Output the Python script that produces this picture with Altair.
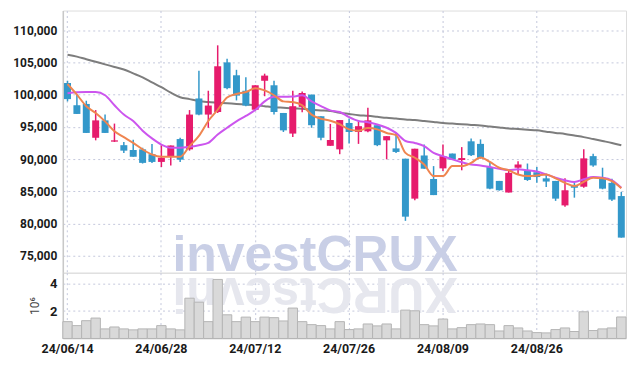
import altair as alt
import pandas as pd

dates = ["24/06/14","24/06/17","24/06/18","24/06/19","24/06/20","24/06/21","24/06/24","24/06/25","24/06/26","24/06/27","24/06/28",
"24/07/01","24/07/02","24/07/03","24/07/04","24/07/05","24/07/08","24/07/09","24/07/10","24/07/11","24/07/12",
"24/07/15","24/07/16","24/07/17","24/07/18","24/07/19","24/07/22","24/07/23","24/07/24","24/07/25","24/07/26",
"24/07/29","24/07/30","24/07/31","24/08/01","24/08/02","24/08/05","24/08/06","24/08/07","24/08/08","24/08/09",
"24/08/12","24/08/13","24/08/14","24/08/16","24/08/19","24/08/20","24/08/21","24/08/22","24/08/23","24/08/26",
"24/08/27","24/08/28","24/08/29","24/08/30","24/09/02","24/09/03","24/09/04","24/09/05","24/09/06"]

label_dates = ["24/06/14", "24/06/28", "24/07/12", "24/07/26", "24/08/09", "24/08/26"]

opens = [101800, 98350, 98550, 93300, 96000, 92700, 92150, 91400, 91500, 90750,
         89550, 90350, 93100, 91500, 99400, 96900, 97300, 105000, 103000, 100600,
         97650, 102150, 101450, 97150, 93950, 98100, 100000, 96650, 92050, 91500,
         95600, 94200, 94300, 95250, 92900, 91650, 90050, 83850, 90550, 86900,
         88550, 90850, 89850, 92750, 92350, 88750, 86600, 84800, 88650, 88150,
         87950, 87000, 86600, 82800, 85800, 85700, 90450, 87100, 86300, 84250]
closes = [99300, 97000, 94050, 96000, 94050, 92900, 91300, 90350, 89400, 89550,
          90200, 92100, 89900, 96900, 96900, 98300, 104400, 101000, 99850, 98300,
          101450, 102950, 97300, 94450, 98200, 100250, 95250, 93300, 92950, 96050,
          94200, 95100, 96000, 92150, 93550, 91100, 81050, 91600, 88500, 84400,
          90450, 89900, 90150, 90600, 90200, 85400, 85150, 87850, 89150, 86750,
          87200, 86500, 83850, 85150, 85550, 90100, 89000, 85400, 83700, 77800]
highs = [102150, 100000, 99050, 97600, 96900, 95500, 92650, 93000, 91750, 92350,
         92150, 92100, 93300, 97600, 103700, 100600, 107650, 105550, 103850, 102700,
         101450, 103250, 102150, 97150, 100600, 100500, 100000, 96650, 95450, 96050,
         96300, 95850, 97950, 95250, 93550, 94050, 90050, 91600, 92250, 88900,
         92250, 90850, 91850, 93200, 93050, 89550, 86600, 88150, 89650, 89300,
         88750, 87700, 86600, 87000, 86300, 91500, 90800, 88650, 86950, 84900]
lows = [98950, 97000, 94050, 92900, 94050, 92650, 90950, 90350, 89300, 89400,
        88750, 89000, 89550, 91300, 96800, 94850, 97150, 100850, 99100, 98200,
        97500, 99750, 96900, 94200, 93400, 97250, 94850, 92900, 92050, 90750,
        92400, 92350, 94150, 92000, 89950, 90950, 80400, 83600, 88500, 84400,
        88150, 89850, 88250, 90450, 90050, 85300, 85100, 84800, 87500, 86600,
        86300, 85650, 83500, 82600, 84000, 85550, 88800, 85300, 83500, 77800]

volumes = [1.23, 0.94, 1.30, 1.49, 0.70, 0.84, 0.70, 0.63, 0.70, 0.70,
           0.94, 0.70, 0.63, 2.94, 2.65, 1.23, 4.31, 1.73, 1.23, 1.56,
           1.23, 1.56, 1.52, 1.28, 2.22, 1.23, 1.01, 0.94, 0.70, 1.23,
           0.65, 0.70, 1.06, 0.92, 1.06, 0.70, 2.07, 2.02, 1.01, 0.92,
           1.42, 0.70, 0.79, 1.01, 1.06, 1.01, 0.55, 0.94, 0.77, 0.55,
           0.43, 0.41, 0.65, 0.77, 0.51, 1.95, 0.58, 0.70, 0.77, 1.57]

ma_short = [101650, 100000, 98200, 97150, 95850, 94300, 93400, 92500, 91500, 90700,
            90350, 90350, 90350, 92000, 93600, 95900, 97650, 99550, 100100, 100400,
            101000, 100650, 99900, 98950, 98850, 98350, 96900, 96250, 95950, 95400,
            94600, 94400, 94800, 94600, 94050, 93700, 90950, 90200, 89150, 87350,
            87350, 88900, 88900, 89400, 90250, 89550, 88650, 88250, 87600, 87350,
            87450, 87600, 87000, 86300, 85800, 86450, 87100, 87000, 86550, 85450]
ma_mid = [100200, 100350, 100400, 100400, 99900, 98350, 96900, 95900, 94400, 93200,
          92250, 91750, 91750, 91900, 92150, 92500, 93800, 94850, 95850, 96700,
          97600, 98950, 99650, 99650, 99700, 99900, 98950, 98200, 97550, 97300,
          96500, 95900, 95700, 95350, 94850, 94050, 92800, 92500, 92000, 90950,
          90450, 89950, 89500, 89150, 89000, 88750, 88500, 88300, 88400, 88250,
          88050, 87600, 87100, 86700, 86450, 86850, 87200, 87100, 86700, 85550]
ma_long = [106190, 105900, 105500, 105100, 104700, 104300, 103900, 103300, 102680, 101900,
           101150, 100300, 99600, 99300, 99000, 98850, 98750, 98650, 98550, 98450,
           98350, 98200, 98050, 97950, 97850, 97800, 97650, 97550, 97450, 97200,
           97000, 96800, 96700, 96550, 96400, 96280, 96150, 96050, 95900, 95750,
           95600, 95500, 95400, 95300, 95200, 95050, 94900, 94750, 94650, 94550,
           94450, 94250, 94050, 93900, 93650, 93400, 93100, 92800, 92500, 92150]

price_ticks = [75000, 80000, 85000, 90000, 95000, 100000, 105000, 110000]
vol_ticks = [2, 4]

df = pd.DataFrame({
    "date": dates, "open": opens, "high": highs, "low": lows, "close": closes,
    "vol": volumes, "ma5": ma_short, "ma20": ma_mid, "ma60": ma_long,
})

UP = "#e61b6c"
DOWN = "#3398ca"
GRID = "#c4c8dc"
FONT = "Roboto"
LBL = "#1a1a1a"

xscale = alt.Scale(domain=dates, paddingInner=0, paddingOuter=0)
grid_axis = alt.Axis(values=label_dates, labels=False, ticks=False, domain=False, title=None,
                     grid=True, gridDash=[2, 3], gridColor=GRID, gridWidth=1, bandPosition=0.5)
bottom_axis = alt.Axis(values=label_dates, labels=True, ticks=False, domain=False, title=None,
                       grid=True, gridDash=[2, 3], gridColor=GRID, gridWidth=1, bandPosition=0.5,
                       labelFont=FONT, labelFontSize=12.5, labelFontWeight="bold", labelColor=LBL,
                       labelPadding=4, labelAngle=0)

pscale = alt.Scale(domain=[72350, 113050], nice=False, zero=False)
price_axis = alt.Axis(values=price_ticks, format=",d", title=None, ticks=False, domain=True,
                      domainColor="#c8c8c8", domainWidth=1.5, grid=True, gridDash=[2, 3],
                      gridColor=GRID, labelFont=FONT, labelFontSize=12, labelFontWeight="bold",
                      labelColor=LBL, labelPadding=6, minExtent=54, maxExtent=54)

base = alt.Chart(df)

wm = alt.Chart(pd.DataFrame({"t": ["investCRUX"]})).mark_text(
    font="Liberation Sans", fontWeight="bold", fontSize=50, color="#c9cfe6",
    align="center", baseline="alphabetic"
).encode(text="t:N", x=alt.value(253), y=alt.value(261))

grid_layer = base.mark_rule(opacity=0).encode(
    x=alt.X("date:O", scale=xscale, axis=grid_axis, bandPosition=0.5),
    y=alt.Y("close:Q", scale=pscale, axis=price_axis),
)

color_cond = alt.condition("datum.close >= datum.open", alt.value(UP), alt.value(DOWN))

wicks = base.mark_rule(strokeWidth=1.5).encode(
    x=alt.X("date:O", scale=xscale, axis=grid_axis, bandPosition=0.5),
    y=alt.Y("low:Q", scale=pscale, axis=price_axis),
    y2="high:Q",
    color=color_cond,
)
bodies = base.mark_bar(size=7).encode(
    x=alt.X("date:O", scale=xscale, axis=grid_axis),
    y=alt.Y("open:Q", scale=pscale, axis=price_axis),
    y2="close:Q",
    color=color_cond,
)

def ma_line(field, color):
    return base.mark_line(strokeWidth=2, color=color, interpolate="monotone").encode(
        x=alt.X("date:O", scale=xscale, axis=grid_axis, bandPosition=0.5),
        y=alt.Y(f"{field}:Q", scale=pscale, axis=price_axis),
    )

price = alt.layer(
    wm, grid_layer, ma_line("ma60", "#7d7d7d"), wicks, bodies,
    ma_line("ma20", "#cc55ee"), ma_line("ma5", "#ef8550"),
).properties(width=565, height=263)

vscale = alt.Scale(domain=[0, 4.8], nice=False)
vol_axis = alt.Axis(values=vol_ticks, title="10⁶", ticks=False, domain=True,
                    domainColor="#c8c8c8", domainWidth=1.5, grid=True, gridDash=[2, 3],
                    gridColor=GRID, labelFont=FONT, labelFontSize=13, labelFontWeight="bold",
                    labelColor=LBL, labelPadding=6, titleFont=FONT, titleFontSize=12,
                    titleFontWeight="normal", titleColor="#444444", titlePadding=8)

reflect = alt.Chart(pd.DataFrame({"t": ["XURCtsevni"]})).mark_text(
    font="Liberation Sans", fontWeight="bold", fontSize=50, color="#e6e7ee",
    align="center", baseline="alphabetic", angle=180
).encode(text="t:N", x=alt.value(253), y=alt.value(5))

vbars = base.mark_bar(fill="#d9d9d9", stroke="#b5b5b5", strokeWidth=1).encode(
    x=alt.X("date:O", scale=xscale, axis=bottom_axis),
    y=alt.Y("vol:Q", scale=vscale, axis=vol_axis),
)

volume = alt.layer(reflect, vbars).properties(width=565, height=66)

chart = alt.vconcat(price, volume, spacing=0, bounds="flush").properties(
    padding={"left": 0, "top": 1, "right": 0, "bottom": 0}
).configure_view(stroke="#d0d0d0", strokeWidth=1).configure(background="white")

chart.save("out.html", embed_options={"renderer": "svg", "actions": False})
